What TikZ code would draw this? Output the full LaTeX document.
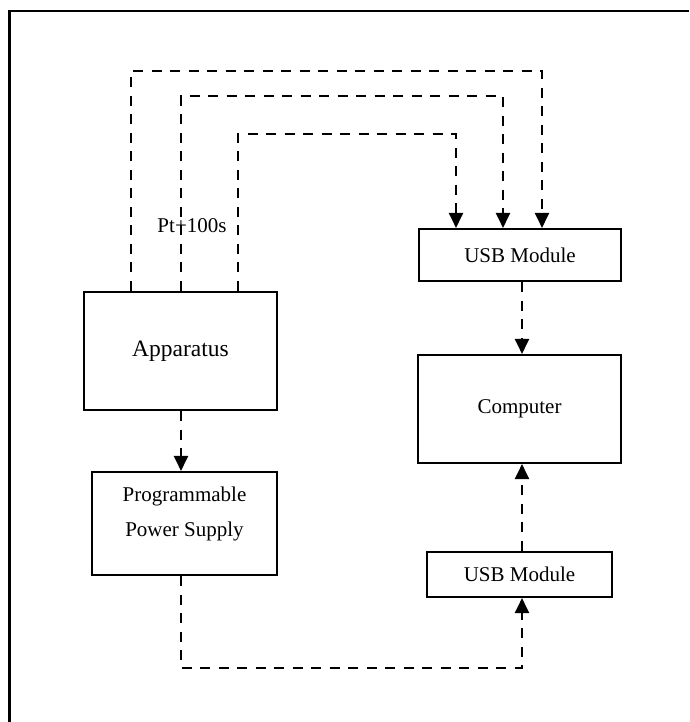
\documentclass[tikz,border=0pt]{standalone}
\usepackage{fontspec}
\setmainfont{Liberation Serif}
\usetikzlibrary{arrows.meta}
\begin{document}
\begin{tikzpicture}[x=1pt,y=-1pt,
  box/.style={draw, line width=2.1pt, rectangle, inner sep=0pt, font=\fontsize{21}{25}\selectfont},
  conn/.style={line width=2.1pt, dash pattern=on 10pt off 8.5pt},
  arr/.style={conn, -{Triangle[width=14pt,length=15pt]}},
  lbl/.style={inner sep=0pt, font=\fontsize{21}{25}\selectfont}]
\useasboundingbox (0,0) rectangle (689,722);
% frame (open at right and bottom)
\draw[line width=2.8pt] (9.5,722) -- (9.5,11) -- (689,11);
% boxes
\node[box, minimum width=193pt, minimum height=118pt, font=\fontsize{23.5}{28}\selectfont] (app) at (180.5,351) {Apparatus};
\node[box, minimum width=202pt, minimum height=52pt] (usb1) at (520,255) {USB Module};
\node[box, minimum width=203pt, minimum height=108pt] (comp) at (519.5,409) {Computer};
\node[box, minimum width=185pt, minimum height=103pt] (pps) at (184.5,523.5) {};
\node[lbl, align=center] (ppstext) at (184.5,514) {Programmable\\[10pt]Power Supply};
\node[box, minimum width=185pt, minimum height=45pt] (usb2) at (519.5,574.5) {USB Module};
\node[lbl] (pt) at (192,226) {Pt+100s};
% bend coordinates
\coordinate (a1) at (131,71);  \coordinate (a1e) at (542,71);
\coordinate (a2) at (181,96);  \coordinate (a2e) at (503,96);
\coordinate (a3) at (238,134); \coordinate (a3e) at (456,134);
\coordinate (b1) at (181,668); \coordinate (b1e) at (522,668);
\coordinate (cx) at (522,0);
% connectors
\draw[arr] (app.north -| a1) -- (a1) -- (a1e) -- (usb1.north -| a1e);
\draw[arr] (app.north -| a2) -- (a2) -- (a2e) -- (usb1.north -| a2e);
\draw[arr] (app.north -| a3) -- (a3) -- (a3e) -- (usb1.north -| a3e);
\draw[arr] (app.south -| a2) -- (pps.north -| a2);
\draw[arr] (usb1.south -| cx) -- (comp.north -| cx);
\draw[arr] (usb2.north -| cx) -- (comp.south -| cx);
\draw[arr] (pps.south -| b1) -- (b1) -- (b1e) -- (usb2.south -| b1e);
\end{tikzpicture}
\end{document}
